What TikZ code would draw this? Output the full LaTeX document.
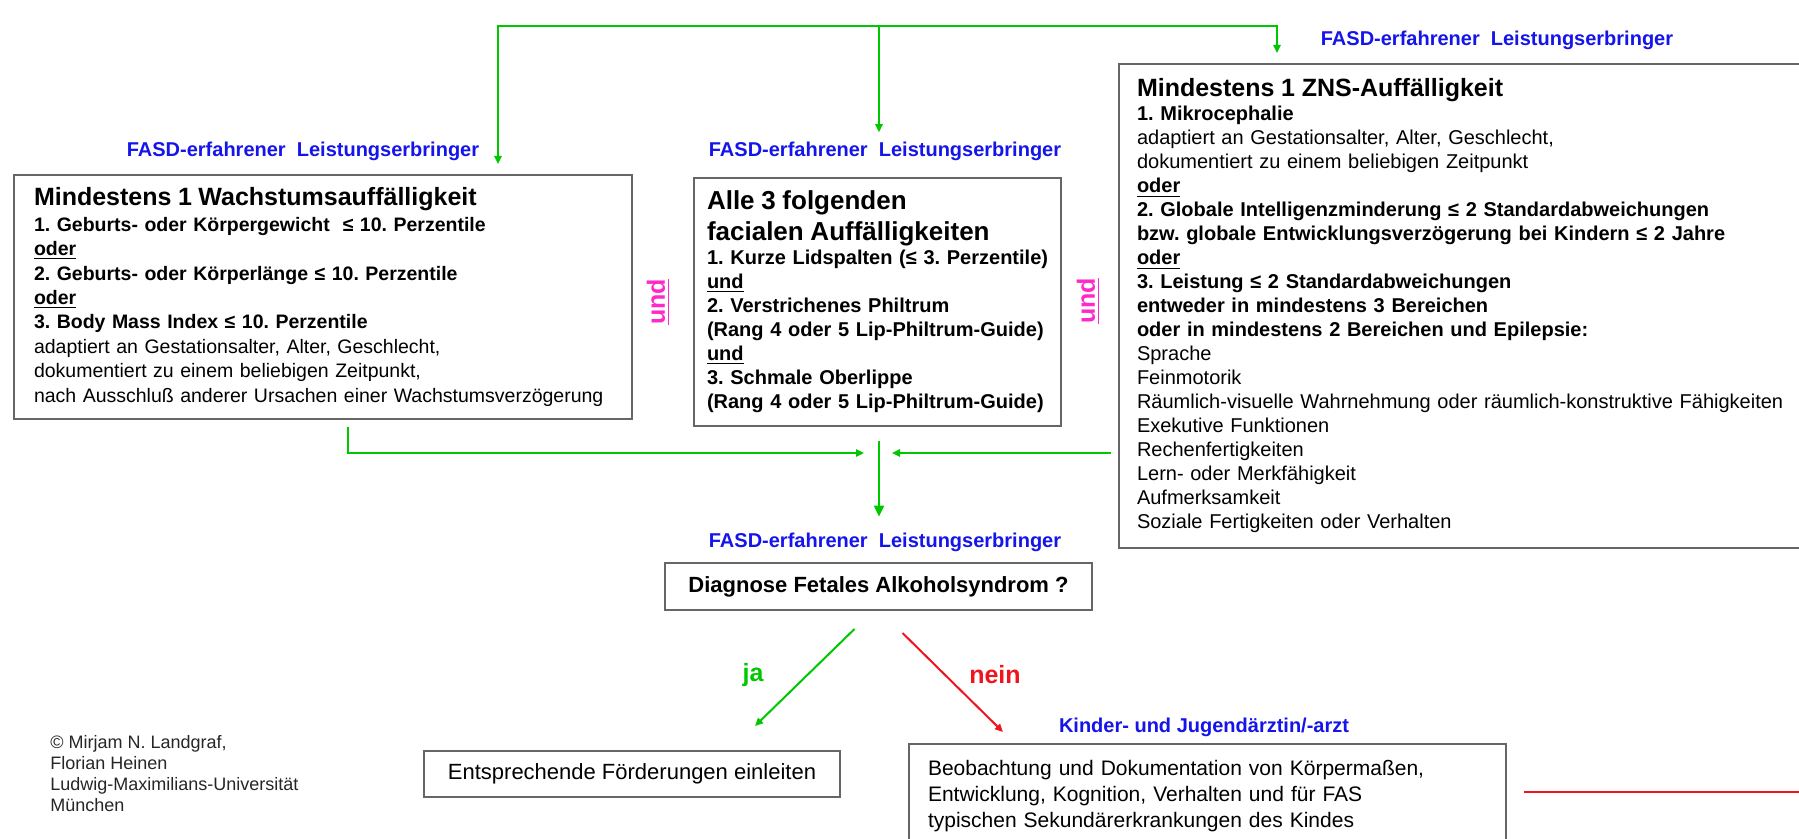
\documentclass[tikz,border=0pt]{standalone}
\usepackage{fontspec}
\setmainfont{Liberation Sans}
\usepackage{xcolor}
\usetikzlibrary{arrows.meta, positioning}
\frenchspacing
\definecolor{fasdgreen}{RGB}{0,200,0}
\definecolor{fasdblue}{RGB}{20,20,235}
\definecolor{undpink}{RGB}{255,40,200}
\definecolor{neinred}{RGB}{240,20,30}
\tikzstyle{critbox} = [draw=black!60, line width=1pt, inner ysep=0pt, align=left,
font=\fontsize{10}{12}\selectfont]
\tikzstyle{rolelabel} = [inner sep=0pt, text=fasdblue, font=\fontsize{10}{12}\selectfont\bfseries]
\tikzstyle{andlabel} = [inner sep=0pt, rotate=90, text=undpink, font=\fontsize{12.5}{15}\selectfont\bfseries]
\tikzstyle{greenflow} = [line width=1pt, draw=fasdgreen, -{Triangle[length=4pt,width=3.6pt]}]
\tikzstyle{redflow} = [line width=1pt, draw=neinred, -{Triangle[length=4pt,width=3.6pt]}]

\begin{document}
\begin{tikzpicture}[x=0.5pt, y=-0.5pt]
    \useasboundingbox (0,0) rectangle (1799,839);
    \fill[white] (0,0) rectangle (1799,839);
    \clip (0,0) rectangle (1799,839);

    % Kriterien
    \node[critbox, anchor=north west, inner xsep=10pt, text width=289pt, minimum height=122pt,
        font=\fontsize{9.75}{12.2}\selectfont] (wachstum) at (13,174)
        {{\fontsize{12.5}{15}\selectfont\bfseries Mindestens 1 Wachstumsauffälligkeit}\\[0.5pt]
        \textbf{1. Geburts- oder Körpergewicht\ \ ≤ 10. Perzentile}\\
        \textbf{\underline{oder}}\\
        \textbf{2. Geburts- oder Körperlänge ≤ 10. Perzentile}\\
        \textbf{\underline{oder}}\\
        \textbf{3. Body Mass Index ≤ 10. Perzentile}\\
        adaptiert an Gestationsalter, Alter, Geschlecht,\\
        dokumentiert zu einem beliebigen Zeitpunkt,\\
        \mbox{nach Ausschluß anderer Ursachen einer Wachstumsverzögerung}};
    \node[critbox, anchor=north west, inner xsep=6.5pt, text width=170.5pt, minimum height=124pt,
        font=\fontsize{10}{12}\selectfont\bfseries] (facial) at (693,177)
        {{\fontsize{13}{15.5}\selectfont Alle 3 folgenden\\facialen Auffälligkeiten\par}
        \mbox{1. Kurze Lidspalten (≤ 3. Perzentile)}\\
        \underline{und}\\
        2. Verstrichenes Philtrum\\
        \mbox{(Rang 4 oder 5 Lip-Philtrum-Guide)}\\
        \underline{und}\\
        3. Schmale Oberlippe\\
        \mbox{(Rang 4 oder 5 Lip-Philtrum-Guide)}};
    \node[critbox, anchor=north west, inner xsep=9pt, text width=340pt, minimum height=242pt] (zns) at (1118,63)
        {{\fontsize{12.5}{15}\selectfont\bfseries Mindestens 1 ZNS-Auffälligkeit}\\
        \textbf{1. Mikrocephalie}\\
        adaptiert an Gestationsalter, Alter, Geschlecht,\\
        dokumentiert zu einem beliebigen Zeitpunkt\\
        \textbf{\underline{oder}}\\
        \textbf{2. Globale Intelligenzminderung ≤ 2 Standardabweichungen}\\
        \textbf{bzw. globale Entwicklungsverzögerung bei Kindern ≤ 2 Jahre}\\
        \textbf{\underline{oder}}\\
        \textbf{3. Leistung ≤ 2 Standardabweichungen}\\
        \textbf{entweder in mindestens 3 Bereichen}\\
        \textbf{oder in mindestens 2 Bereichen und Epilepsie:}\\
        Sprache\\
        Feinmotorik\\
        Räumlich-visuelle Wahrnehmung oder räumlich-konstruktive Fähigkeiten\\
        Exekutive Funktionen\\
        Rechenfertigkeiten\\
        Lern- oder Merkfähigkeit\\
        Aufmerksamkeit\\
        Soziale Fertigkeiten oder Verhalten};

    \node[andlabel] (und1) at (658,302) {\underline{und}};
    \node[andlabel] (und2) at (1088,301) {\underline{und}};

    % Leistungserbringer
    \node[rolelabel] (fasdL) at (303,151) {FASD-erfahrener\ \ Leistungserbringer};
    \node[rolelabel] (fasdM) at (885,151) {FASD-erfahrener\ \ Leistungserbringer};
    \node[rolelabel] (fasdR) at (1497,40) {FASD-erfahrener\ \ Leistungserbringer};
    \node[rolelabel] (fasdD) at (885,542) {FASD-erfahrener\ \ Leistungserbringer};
    \node[rolelabel] (kinder) at (1204,727) {Kinder- und Jugendärztin/-arzt};

    % Diagnose
    \node[critbox, minimum width=213.5pt, minimum height=23.5pt,
        font=\fontsize{11}{13}\selectfont\bfseries] (diag) at (878.5,586.5) {Diagnose Fetales Alkoholsyndrom ?};
    \node[critbox, minimum width=208pt, minimum height=23pt,
        font=\fontsize{11}{13}\selectfont] (entspr) at (632,774) {Entsprechende Förderungen einleiten};
    \node[critbox, anchor=north west, inner xsep=9.5pt, inner ysep=7.9pt, text width=279.5pt,
        font=\fontsize{10.5}{13}\selectfont] (beob) at (908,743)
        {Beobachtung und Dokumentation von Körpermaßen,\\
        Entwicklung, Kognition, Verhalten und für FAS\\
        typischen Sekundärerkrankungen des Kindes};

    \node[text=fasdgreen, inner sep=0pt, font=\fontsize{12.5}{15}\selectfont\bfseries] (ja) at (753,675) {ja};
    \node[text=neinred, inner sep=0pt, font=\fontsize{12.5}{15}\selectfont\bfseries] (nein) at (995,675) {nein};

    \node[anchor=west, inner sep=0pt, align=left, text=black!85,
        font=\fontsize{9}{10.5}\selectfont] (copy) at (50,773.5)
        {© Mirjam N. Landgraf,\\Florian Heinen\\Ludwig-Maximilians-Universität\\München};

    % Verbindungen
    \coordinate (top) at (879,26);
    \coordinate (joinL) at (864,453);
    \coordinate (joinR) at (892,453);
    \coordinate (joinT) at (879,441);
    \coordinate (redend) at (1810,792);

    \draw[greenflow] (top) -| ([xshift=87.5pt,yshift=5pt]wachstum.north);
    \draw[greenflow] (top) -- ([yshift=4.5pt]top |- fasdM.north);
    \draw[greenflow] (top) -| ([xshift=79.5pt,yshift=5pt]zns.north west);

    \draw[greenflow] ([xshift=12.5pt,yshift=-3.5pt]wachstum.south) |- (joinL);
    \draw[greenflow] ([xshift=-3.5pt]zns.west |- joinR) -- (joinR);
    \draw[greenflow, -{Triangle[length=5.5pt,width=5pt]}] (joinT) -- ([yshift=7.8pt]joinT |- fasdD.north);

    \draw[greenflow] ([xshift=-12pt,yshift=-9pt]diag.south) -- ([xshift=61.5pt,yshift=12pt]entspr.north);
    \draw[redflow] ([xshift=12pt,yshift=-11pt]diag.south) -- ([xshift=47.5pt,yshift=5.5pt]beob.north west);
    \draw[neinred, line width=1pt] ([xshift=8.5pt]beob.east |- redend) -- (redend);
\end{tikzpicture}
\end{document}
